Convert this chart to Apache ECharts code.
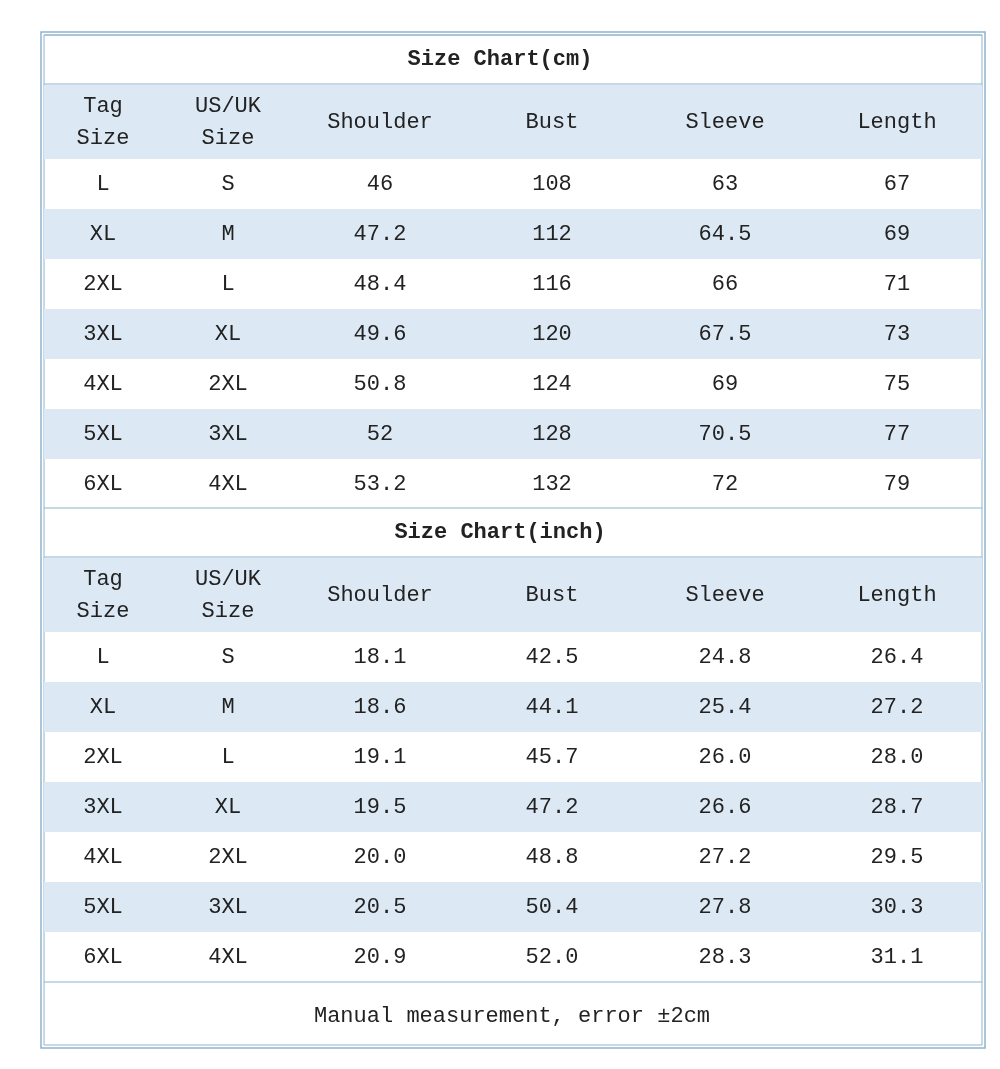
<!DOCTYPE html><html><head><meta charset="utf-8"><script src="https://cdn.jsdelivr.net/npm/echarts@6/dist/echarts.min.js"></script>
<style>html,body{margin:0;background:#fff}#c{width:1000px;height:1069px}</style></head><body><div id="c"></div><script>
const titles=["Size Chart(cm)","Size Chart(inch)"];
const headers=["Tag\nSize","US/UK\nSize","Shoulder","Bust","Sleeve","Length"];
const tagSizes=["L","XL","2XL","3XL","4XL","5XL","6XL"];
const usSizes=["S","M","L","XL","2XL","3XL","4XL"];
const cmShoulder=["46","47.2","48.4","49.6","50.8","52","53.2"];
const cmBust=["108","112","116","120","124","128","132"];
const cmSleeve=["63","64.5","66","67.5","69","70.5","72"];
const cmLength=["67","69","71","73","75","77","79"];
const inShoulder=["18.1","18.6","19.1","19.5","20.0","20.5","20.9"];
const inBust=["42.5","44.1","45.7","47.2","48.8","50.4","52.0"];
const inSleeve=["24.8","25.4","26.0","26.6","27.2","27.8","28.3"];
const inLength=["26.4","27.2","28.0","28.7","29.5","30.3","31.1"];
const footer="Manual measurement, error ±2cm";

const L=44,R=982,T=35;
const colX=[103,228,380,552,725,897];
const blue='#dce9f5',line='#8fb4cc',font='"Liberation Mono","DejaVu Sans Mono",monospace',tc='#222';
const g=[];
g.push({type:'rect',shape:{x:41,y:32,width:944,height:1016},style:{fill:'none',stroke:line,lineWidth:1.5}});
g.push({type:'rect',shape:{x:L,y:T,width:R-L,height:1010},style:{fill:'none',stroke:line,lineWidth:1}});
function txt(x,y,s,o){g.push({type:'text',x:x,y:y,style:Object.assign({text:s,fill:tc,font:'22px '+font,align:'center',verticalAlign:'middle',lineHeight:32},o||{})});}
function section(y0,title,cols){
  g.push({type:'line',shape:{x1:L,y1:y0,x2:R,y2:y0},style:{stroke:line,lineWidth:1.2}});
  txt(500,y0+24,title,{font:'bold 22px '+font});
  g.push({type:'line',shape:{x1:L,y1:y0+49,x2:R,y2:y0+49},style:{stroke:line,lineWidth:1.2}});
  g.push({type:'rect',shape:{x:L,y:y0+50,width:R-L,height:74},style:{fill:blue}});
  headers.forEach((h,i)=>txt(colX[i],y0+87,h));
  for(let r=0;r<7;r++){
    const ry=y0+124+r*50;
    if(r%2===1)g.push({type:'rect',shape:{x:L,y:ry,width:R-L,height:50},style:{fill:blue}});
    cols.forEach((c,i)=>txt(colX[i],ry+25,c[r]));
  }
}
section(T,titles[0],[tagSizes,usSizes,cmShoulder,cmBust,cmSleeve,cmLength]);
section(508,titles[1],[tagSizes,usSizes,inShoulder,inBust,inSleeve,inLength]);
g.push({type:'line',shape:{x1:L,y1:982,x2:R,y2:982},style:{stroke:line,lineWidth:1.2}});
txt(512,1016,footer);
const ch=echarts.init(document.getElementById('c'),null,{renderer:'canvas'});
ch.setOption({animation:false,graphic:g});
</script></body></html>
